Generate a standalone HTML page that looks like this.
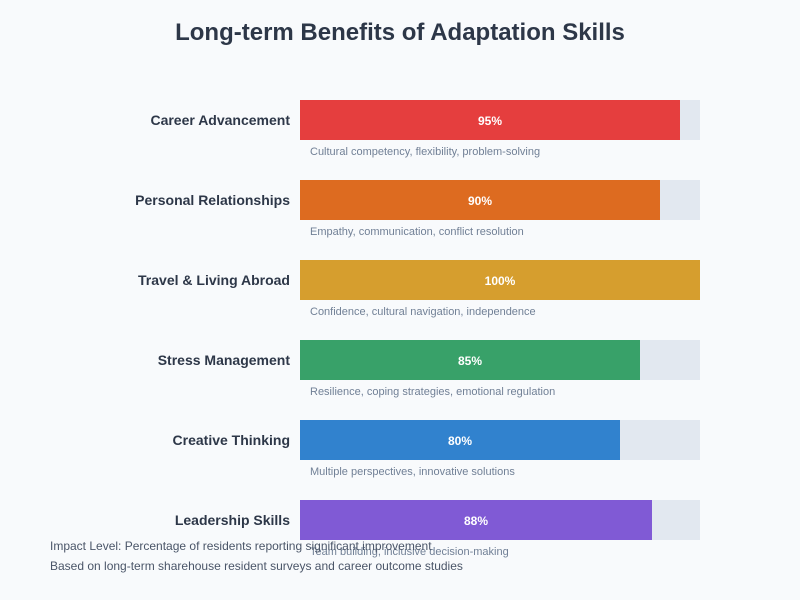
<!DOCTYPE html>
<html><head><meta charset="utf-8"><style>
html,body{margin:0;padding:0;background:#f8fafc;}
svg{display:block;font-family:"Liberation Sans",sans-serif;}
</style></head><body>
<svg id="chart" width="800" height="600">
<rect width="800" height="600" fill="#f8fafc"/>
<text x="400" y="40" text-anchor="middle" font-size="24" font-weight="bold" fill="#2d3748">Long-term Benefits of Adaptation Skills</text>
<g id="bars"></g>
<text x="50" y="550" font-size="12" fill="#4a5568">Impact Level: Percentage of residents reporting significant improvement</text>
<text x="50" y="570" font-size="12" fill="#4a5568">Based on long-term sharehouse resident surveys and career outcome studies</text>
</svg>
<script>
const categories = ["Career Advancement","Personal Relationships","Travel & Living Abroad","Stress Management","Creative Thinking","Leadership Skills"];
const values = [95,90,100,85,80,88];
const descriptions = ["Cultural competency, flexibility, problem-solving","Empathy, communication, conflict resolution","Confidence, cultural navigation, independence","Resilience, coping strategies, emotional regulation","Multiple perspectives, innovative solutions","Team building, inclusive decision-making"];
const colors = ["#e53e3e","#dd6b20","#d69e2e","#38a169","#3182ce","#805ad5"];

const NS="http://www.w3.org/2000/svg";
const g=document.getElementById('bars');
const x0=300, W=400, top0=100, step=80, bh=40;
const xScale=v=>v/100*W;
function mk(tag,attrs,text){const e=document.createElementNS(NS,tag);for(const k in attrs)e.setAttribute(k,attrs[k]);if(text!==undefined)e.textContent=text;g.appendChild(e);return e;}
categories.forEach((c,i)=>{
  const y=top0+i*step;
  const slug=c.toLowerCase().replace(/[^a-z]+/g,'-').replace(/-$/,'');
  let e=mk('text',{x:290,y:y+25,'text-anchor':'end','font-size':14,'font-weight':'bold',fill:'#2d3748'},c);
  
  
  e=mk('rect',{x:x0,y:y,width:W,height:bh,fill:'#e2e8f0'});
  
  
  const w=xScale(values[i]);
  e=mk('rect',{x:x0,y:y,width:w,height:bh,fill:colors[i]});
  
  
  e=mk('text',{x:x0+w/2,y:y+25,'text-anchor':'middle','font-size':12,'font-weight':'bold',fill:'#ffffff'},values[i]+'%');
  
  
  e=mk('text',{x:310,y:y+55,'font-size':11,fill:'#718096'},descriptions[i]);
  
  
});
</script>
</body></html>
